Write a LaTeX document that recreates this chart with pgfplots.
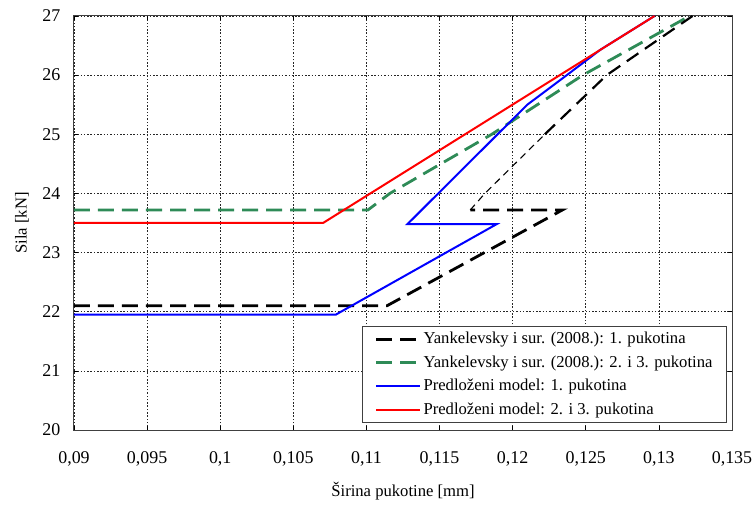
\documentclass[border=0pt]{standalone}
\usepackage{fontspec}
\setmainfont{Liberation Serif}
\usepackage{pgfplots}
\pgfplotsset{compat=1.18}
\definecolor{ygreen}{RGB}{46,139,87}
\begin{document}
\fontsize{16.7}{20}\selectfont
\begin{tikzpicture}
\begin{axis}[name=ax, scale only axis, width=658bp, height=414bp,
  xmin=0.09, xmax=0.135, ymin=20, ymax=27,
  xtick={0.09,0.095,0.1,0.105,0.11,0.115,0.12,0.125,0.13,0.135},
  ytick={20,21,22,23,24,25,26,27},
  /pgf/number format/assume math mode=true,
  x tick label style={/pgf/number format/fixed, /pgf/number format/use comma, /pgf/number format/precision=3, yshift=-16bp},
  y tick label style={xshift=-8bp},
  ticklabel style={font=\fontsize{18}{21}\selectfont},
  grid=major,
  major grid style={black!85, line width=0.6bp, dash pattern=on 1.5bp off 1.8bp},
  axis line style={draw=black!75, line width=1bp},
  tick style={black, line width=0.6bp}, major tick length=4bp, tick align=inside,
  xlabel={Širina pukotine [mm]}, ylabel={Sila [kN]},
  every axis x label/.style={at={(rel axis cs:0.5,0)}, yshift=-61bp, anchor=center, font=\fontsize{16.7}{20}\selectfont},
  every axis y label/.style={at={(rel axis cs:0,0.5)}, xshift=-52bp, rotate=90, anchor=center, font=\fontsize{16.7}{20}\selectfont},
  legend cell align=left,
  legend image code/.code={\draw[#1] (0bp,0bp) -- (44bp,0bp);},
  legend style={at={(rel axis cs:1,0)}, anchor=south east, xshift=-5bp, yshift=7bp,
    draw=black!75, line width=1bp, fill=white, font=\fontsize{16.7}{20}\selectfont,
    inner xsep=12bp, inner ysep=4bp, row sep=6.5bp, nodes={inner ysep=1.5bp}},
]
\addplot[black, line width=2.8bp, dash pattern=on 16bp off 8bp] coordinates {
 (0.09,22.1) (0.1114,22.1) (0.1234,23.72) (0.1171,23.72)};
\addlegendentry{Yankelevsky i sur. (2008.): 1. pukotina}
\addplot[ygreen, line width=2.8bp, dash pattern=on 16bp off 8bp] coordinates {
 (0.09,23.72) (0.1101,23.72) (0.1116,24) (0.11857,25) (0.1248,26) (0.1321,27)};
\addlegendentry{Yankelevsky i sur. (2008.): 2. i 3. pukotina}
\addplot[blue, line width=2bp] coordinates {
 (0.09,21.95) (0.1079,21.95) (0.1189,23.48) (0.1128,23.48) (0.1210,25.5) (0.1237,26) (0.126,26.43) (0.1297,27)};
\addlegendentry{Predloženi model: 1. pukotina}
\addplot[red, line width=2bp] coordinates {
 (0.09,23.5) (0.10703,23.5) (0.1297,27)};
\addlegendentry{Predloženi model: 2. i 3. pukotina}
\addplot[black, line width=1.1bp, dash pattern=on 7bp off 5bp, forget plot] coordinates {
 (0.1171,23.72) (0.1181,24) (0.1222,25)};
\addplot[black, line width=2.2bp, dash pattern=on 14bp off 8bp, forget plot] coordinates {
 (0.1222,25) (0.12643,26) (0.1323,27)};
\end{axis}
\pgfresetboundingbox
\path ([shift={(-74bp,-77bp)}]ax.south west) rectangle ([shift={(22bp,16bp)}]ax.north east);
\end{tikzpicture}
\end{document}
